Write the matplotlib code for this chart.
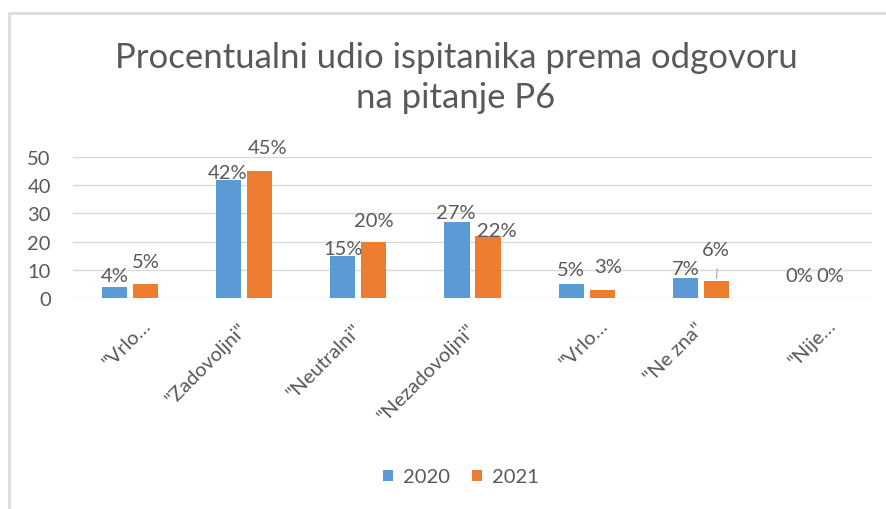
"""Procentualni udio ispitanika prema odgovoru na pitanje P6 (2020 vs 2021)."""

import matplotlib.pyplot as plt
import numpy as np
from matplotlib.patches import Rectangle
from matplotlib.transforms import ScaledTranslation

categories = ['"Vrlo…', '"Zadovoljni"', '"Neutralni"', '"Nezadovoljni"',
              '"Vrlo…', '"Ne zna"', '"Nije…']
years = ["2020", "2021"]
values_2020 = [4, 42, 15, 27, 5, 7, 0]
values_2021 = [5, 45, 20, 22, 3, 6, 0]

# label nudges (pixels) mimicking Excel's best-fit placement
nudge_2020 = [(0, 6), (-1, 2), (0, 2), (-1, 4), (0, 9), (0, 4), (0, 17)]
nudge_2021 = [(0, 17), (8, 18), (0, 16), (9, 0), (6, 18), (0, 26), (0, 17)]

BLUE = "#5B9BD5"
ORANGE = "#ED7D31"
GREY = "#595959"
FS = 14.5

plt.rcParams["font.family"] = ["Lato", "DejaVu Sans"]

W, H = 887, 510
fig = plt.figure(figsize=(W / 100, H / 100), dpi=100)
ax = fig.add_axes([73 / W, 1 - 299 / H, (872 - 73) / W, (299 - 158) / H])

x = np.arange(len(categories))
bw = 0.22
off = 0.136
b1 = ax.bar(x - off, values_2020, bw, color=BLUE, label=years[0], zorder=2)
b2 = ax.bar(x + off, values_2021, bw, color=ORANGE, label=years[1], zorder=2)

for bars, vals, nudges in [(b1, values_2020, nudge_2020), (b2, values_2021, nudge_2021)]:
    for rect, v, (dx, dy) in zip(bars, vals, nudges):
        ax.annotate(f"{v}%", (rect.get_x() + rect.get_width() / 2, v),
                    xytext=(dx, dy), textcoords="offset pixels",
                    ha="center", va="baseline", fontsize=FS, color=GREY)

# leader line for the 6% label
r6 = b2[5]
cx = r6.get_x() + r6.get_width() / 2
ax.annotate("", (cx, values_2021[5]), xytext=(cx + 0.01, values_2021[5] + 5.5),
            arrowprops=dict(arrowstyle="-", color="#a6a6a6", lw=0.8))

ax.set_xlim(-0.5, len(categories) - 0.5)
ax.set_ylim(0, 50)
ax.set_yticks(range(0, 51, 10))
ax.yaxis.grid(True, color="#d9d9d9", lw=1, zorder=0)
ax.set_axisbelow(True)
for s in ax.spines.values():
    s.set_visible(False)
ax.tick_params(axis="both", length=0, colors=GREY, labelsize=FS)
ax.tick_params(axis="y", pad=16)
ax.tick_params(axis="x", pad=20)
ax.set_xticks(x)
ax.set_xticklabels(categories, rotation=45, ha="right", va="center",
                   rotation_mode="anchor")
# truncated labels sit a bit further right in the original
for lab in ax.get_xticklabels():
    dx = 18 if lab.get_text().endswith("…") else 0
    lab.set_transform(lab.get_transform() + ScaledTranslation(dx / 100, 4 / 100 if dx else 0,
                                                              fig.dpi_scale_trans))

fig.text(456 / W, 1 - 68 / H, "Procentualni udio ispitanika prema odgovoru",
         ha="center", va="baseline", fontsize=25, color=GREY)
fig.text(456 / W, 1 - 108 / H, "na pitanje P6",
         ha="center", va="baseline", fontsize=25, color=GREY)

leg = fig.legend(loc="center", bbox_to_anchor=(461 / W, 1 - 478 / H), ncol=2,
                 frameon=False, fontsize=FS, handlelength=0.5, handleheight=0.5,
                 handletextpad=0.5, columnspacing=1.1)
for t in leg.get_texts():
    t.set_color(GREY)

fig.patches.append(Rectangle((9 / W, -0.5), 1.5, 1.5 - 14 / H, transform=fig.transFigure,
                             fill=False, edgecolor="#d9d9d9", lw=1.8))

fig.savefig("out.png", dpi=100)
